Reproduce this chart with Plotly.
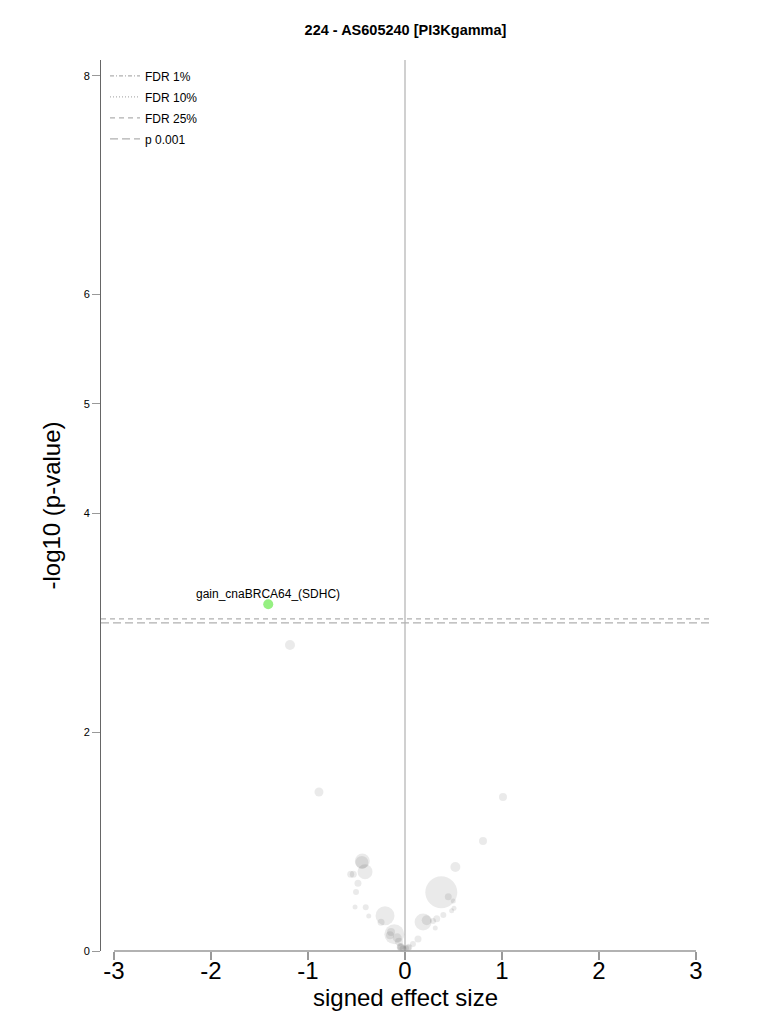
import plotly.graph_objects as go

# ---- data ----
title_text = "224 - AS605240 [PI3Kgamma]"
x_label = "signed effect size"
y_label = "-log10 (p-value)"

# background (non-significant) associations
effect = [-1.186, -0.887, 1.010, 0.804, 0.519, 0.374, -0.440, -0.445, -0.412,
          -0.560, -0.533, -0.485, -0.505, -0.515, -0.405, -0.374, -0.206, -0.247,
          -0.110, -0.155, -0.144, -0.062, -0.044, -0.040, -0.048, 0.038, 0.034,
          0.082, 0.134, 0.186, 0.224, 0.327, 0.312, 0.395, 0.446, 0.498, 0.505,
          0.481, 0.289, -0.080, -0.020, 0.010]
neglogp = [2.797, 1.453, 1.408, 1.005, 0.768, 0.537, 0.823, 0.810, 0.725,
           0.701, 0.701, 0.619, 0.539, 0.402, 0.399, 0.320, 0.323, 0.262,
           0.153, 0.144, 0.174, 0.085, 0.034, 0.030, 0.040, 0.034, 0.030,
           0.064, 0.110, 0.265, 0.281, 0.295, 0.210, 0.329, 0.496, 0.457, 0.390,
           0.368, 0.274, 0.120, 0.020, 0.025]
sizes = [10, 9, 8, 8, 10, 32, 15, 13, 15,
         7, 7, 7, 6, 5, 6, 5, 19, 7,
         20, 8, 8, 8, 8, 7, 7, 7, 6,
         6, 7, 17, 10, 7, 5, 6, 7, 5, 5,
         5, 6, 9, 7, 6]

# highlighted hit
hit_effect = [-1.41]
hit_neglogp = [3.17]
hit_label = ["gain_cnaBRCA64_(SDHC)"]

# threshold lines
thr_names = ["FDR 1%", "FDR 10%", "FDR 25%", "p 0.001"]
thr_values = [None, None, 3.035, 3.0]
thr_dash = ["4px,2px,1px,2px", "1px,2px", "5px,4px", "8px,4px"]

x_ticks = [-3, -2, -1, 0, 1, 2, 3]
y_ticks = [0, 2, 4, 5, 6, 8]
x_range = [-3.134, 3.144]
y_range = [0, 8.144]

FONT = "Liberation Sans, Arial, sans-serif"

fig = go.Figure()

# threshold lines (with legend entries)
for i, (name, val, dash) in enumerate(zip(thr_names, thr_values, thr_dash)):
    if val is None:
        xs, ys = [None], [None]
    else:
        xs, ys = x_range, [val, val]
    fig.add_trace(go.Scatter(
        x=xs, y=ys, mode="lines", name=name, legendgroup="g%d" % i,
        line=dict(color="#b0b0b0", width=1.3, dash=dash),
        hoverinfo="skip"))

fig.add_trace(go.Scatter(
    x=effect, y=neglogp, mode="markers", showlegend=False,
    marker=dict(size=sizes, color="rgba(0,0,0,0.12)", line=dict(width=0)),
    cliponaxis=False))

fig.add_trace(go.Scatter(
    x=hit_effect, y=hit_neglogp, mode="markers", showlegend=False,
    marker=dict(size=10, color="rgb(150,240,130)", line=dict(width=0)),
    cliponaxis=False))

for hx, hy, lab in zip(hit_effect, hit_neglogp, hit_label):
    fig.add_annotation(x=hx, y=hy, text=lab, showarrow=False, yshift=10,
                       font=dict(size=12, color="black", family=FONT))

# vertical zero line
fig.add_shape(type="line", xref="x", yref="paper", x0=0, x1=0, y0=0, y1=1,
              line=dict(color="#d0d0d0", width=2), layer="below")
# x axis line only across tick range
fig.add_shape(type="line", xref="x", yref="paper", x0=x_ticks[0], x1=x_ticks[-1],
              y0=0, y1=0, line=dict(color="#999999", width=1.5))

fig.update_layout(
    width=768, height=1024,
    margin=dict(l=93, r=66, t=52, b=81),
    paper_bgcolor="white", plot_bgcolor="white",
    font=dict(family=FONT, color="black"),
    title=dict(text="<b>" + title_text + "</b>", x=0.5, xref="paper",
               y=1 - 22 / 1024, yanchor="middle",
               font=dict(size=14.5, family=FONT, color="black")),
    legend=dict(x=0.0066, y=0.9985, xanchor="left", yanchor="top",
                font=dict(size=12, family=FONT), bgcolor="rgba(0,0,0,0)",
                itemwidth=30, tracegroupgap=2),
    showlegend=True,
)

fig.update_xaxes(
    range=x_range, tickvals=x_ticks, ticktext=[str(v) for v in x_ticks],
    showgrid=False, zeroline=False, showline=False,
    ticks="outside", ticklen=8, tickwidth=1.5, tickcolor="#999999",
    ticklabelstandoff=-10,
    tickfont=dict(size=24, family=FONT),
    title=dict(text=x_label, font=dict(size=24, family=FONT), standoff=6),
)
fig.update_yaxes(
    range=y_range, tickvals=y_ticks, ticktext=[str(v) for v in y_ticks],
    showgrid=False, zeroline=False, showline=True, linecolor="#666666", linewidth=1,
    ticks="outside", ticklen=8, tickwidth=1, tickcolor="#999999",
    tickfont=dict(size=11, family=FONT),
    title=dict(text=y_label, font=dict(size=24, family=FONT), standoff=16),
)

fig.write_html("out.html")
